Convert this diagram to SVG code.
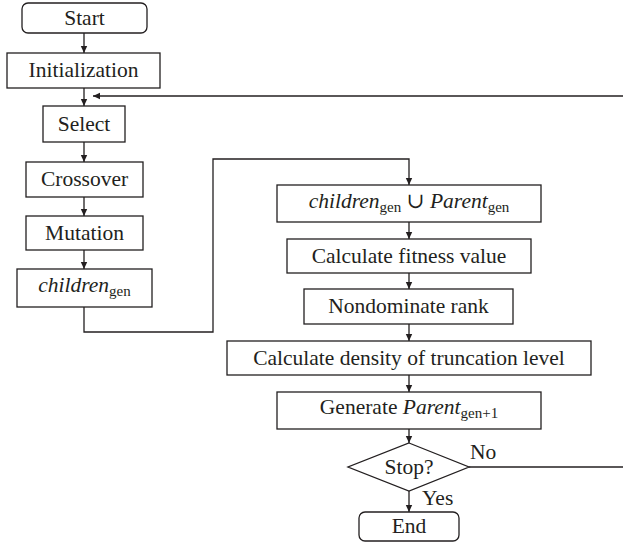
<svg xmlns="http://www.w3.org/2000/svg" width="623" height="546" viewBox="0 0 623 546">
<defs>
<marker id="ah" markerWidth="8" markerHeight="8" refX="7" refY="4" orient="auto" markerUnits="userSpaceOnUse">
<path d="M0,0.8 L7,4 L0,7.2 Z" fill="#231f20"/>
</marker>
<style>
.box{fill:#fff;stroke:#231f20;stroke-width:1.3}
.ln{fill:none;stroke:#231f20;stroke-width:1.3}
text{font-family:"Liberation Serif","DejaVu Serif",serif;font-size:21.5px;fill:#231f20}
.c{text-anchor:middle}
.it{font-style:italic}
.sub{font-size:15px}
</style>
</defs>
<rect width="623" height="546" fill="#fff"/>
<g id="connectors">
<line class="ln" x1="84" y1="33" x2="84" y2="53" marker-end="url(#ah)"/>
<line class="ln" x1="84" y1="88" x2="84" y2="106" marker-end="url(#ah)"/>
<line class="ln" x1="623" y1="96" x2="93" y2="96" marker-end="url(#ah)"/>
<line class="ln" x1="84" y1="142" x2="84" y2="162" marker-end="url(#ah)"/>
<line class="ln" x1="84" y1="197" x2="84" y2="216" marker-end="url(#ah)"/>
<line class="ln" x1="84" y1="250" x2="84" y2="269" marker-end="url(#ah)"/>
<polyline class="ln" points="84,307 84,332 213,332 213,159 409,159 409,185" marker-end="url(#ah)"/>
<line class="ln" x1="409" y1="222" x2="409" y2="239" marker-end="url(#ah)"/>
<line class="ln" x1="409" y1="273" x2="409" y2="289" marker-end="url(#ah)"/>
<line class="ln" x1="409" y1="324" x2="409" y2="341" marker-end="url(#ah)"/>
<line class="ln" x1="409" y1="375" x2="409" y2="392" marker-end="url(#ah)"/>
<line class="ln" x1="409" y1="429" x2="409" y2="443" marker-end="url(#ah)"/>
<line class="ln" x1="409" y1="491" x2="409" y2="512" marker-end="url(#ah)"/>
<line class="ln" x1="469" y1="467" x2="623" y2="467"/>
<text x="470" y="459">No</text>
<text x="422" y="505">Yes</text>
</g>
<g id="start">
<rect class="box" x="22" y="3" width="125" height="30" rx="6"/>
<text class="c" x="84.5" y="24.5">Start</text>
</g>
<g id="init">
<rect class="box" x="7" y="53" width="153" height="35"/>
<text class="c" x="83.5" y="77">Initialization</text>
</g>
<g id="select">
<rect class="box" x="43" y="106" width="82" height="36"/>
<text class="c" x="84" y="130.5">Select</text>
</g>
<g id="crossover">
<rect class="box" x="26" y="162" width="117" height="35"/>
<text class="c" x="84.5" y="186">Crossover</text>
</g>
<g id="mutation">
<rect class="box" x="26" y="216" width="117" height="34"/>
<text class="c" x="84.5" y="240">Mutation</text>
</g>
<g id="children">
<rect class="box" x="17" y="269" width="135" height="38"/>
<text class="c" x="84.5" y="292"><tspan class="it">children</tspan><tspan class="sub" dy="4">gen</tspan></text>
</g>
<g id="union">
<rect class="box" x="277" y="185" width="264" height="37"/>
<text class="c" x="409" y="208"><tspan class="it">children</tspan><tspan class="sub" dy="4">gen</tspan><tspan dy="-4"> ∪ </tspan><tspan class="it">Parent</tspan><tspan class="sub" dy="4">gen</tspan></text>
</g>
<g id="fitness">
<rect class="box" x="287" y="239" width="244" height="34"/>
<text class="c" x="409" y="263">Calculate fitness value</text>
</g>
<g id="nondom">
<rect class="box" x="304" y="289" width="209" height="35"/>
<text class="c" x="408.5" y="313">Nondominate rank</text>
</g>
<g id="density">
<rect class="box" x="227" y="341" width="364" height="34"/>
<text class="c" x="409" y="364.5">Calculate density of truncation level</text>
</g>
<g id="generate">
<rect class="box" x="277" y="392" width="264" height="37"/>
<text class="c" x="409" y="414">Generate <tspan class="it">Parent</tspan><tspan class="sub" dy="4">gen+1</tspan></text>
</g>
<g id="stop">
<polygon class="box" points="409,443 469,467 409,491 348,467"/>
<text class="c" x="409" y="474">Stop?</text>
</g>
<g id="end">
<rect class="box" x="359" y="512" width="100" height="29" rx="6"/>
<text class="c" x="409" y="533">End</text>
</g>
</svg>
